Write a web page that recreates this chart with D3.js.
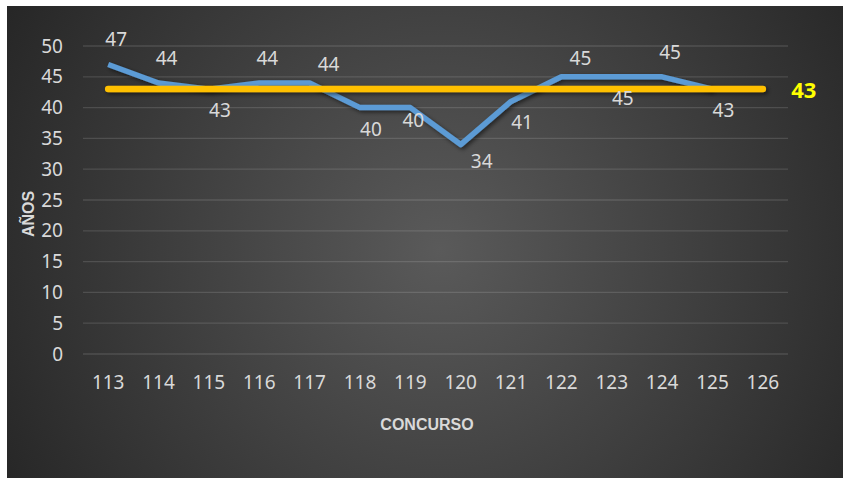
<!DOCTYPE html>
<html>
<head>
<meta charset="utf-8">
<script src="https://cdn.jsdelivr.net/npm/d3@7"></script>
<style>
  html, body { margin: 0; padding: 0; background: #fff; }
  svg { display: block; }
</style>
</head>
<body>
<div id="chart"></div>
<script>
// data
var concursos = ["113","114","115","116","117","118","119","120","121","122","123","124","125","126"];
var edades = [47, 44, 43, 44, 44, 40, 40, 34, 41, 45, 45, 45, 43];
var promedio = [43];
var yTicks = [0, 5, 10, 15, 20, 25, 30, 35, 40, 45, 50];
// where each data label sits relative to its point
var labelPos = ["t","t","b","t","tr","b","bs","br","b","tr","b","t","b"];

var W = 843, H = 478;
var margin = {top: 46, right: 55, bottom: 124, left: 83};

var svg = d3.select("#chart").append("svg")
    .attr("width", W)
    .attr("height", H);

var defs = svg.append("defs");

var bg = defs.append("radialGradient")
    .attr("id", "bg")
    .attr("gradientUnits", "userSpaceOnUse")
    .attr("cx", 440).attr("cy", 250).attr("r", 540);
bg.append("stop").attr("offset", "0%").attr("stop-color", "#5a5a5a");
bg.append("stop").attr("offset", "100%").attr("stop-color", "#222222");

// user space region so the flat average line still gets its shadow
var shadow = defs.append("filter")
    .attr("id", "shadow")
    .attr("filterUnits", "userSpaceOnUse")
    .attr("x", 0).attr("y", 0)
    .attr("width", W).attr("height", H);
shadow.append("feDropShadow")
    .attr("dx", 2).attr("dy", 2)
    .attr("stdDeviation", 2)
    .attr("flood-color", "#000")
    .attr("flood-opacity", 0.55);

svg.append("rect")
    .attr("x", 7).attr("y", 6)
    .attr("width", W - 7).attr("height", H - 6)
    .attr("fill", "url(#bg)");

var x = d3.scaleBand()
    .domain(concursos)
    .range([margin.left, W - margin.right])
    .padding(0);

var y = d3.scaleLinear()
    .domain([0, 50])
    .range([H - margin.bottom, margin.top]);

var cx = function (d, i) { return x(concursos[i]) + x.bandwidth() / 2; };

// gridlines
svg.append("g")
    .selectAll("line")
    .data(yTicks)
    .enter().append("line")
    .attr("x1", margin.left)
    .attr("x2", W - margin.right)
    .attr("y1", function (d) { return y(d); })
    .attr("y2", function (d) { return y(d); })
    .attr("stroke", "rgba(255,255,255,0.13)")
    .attr("stroke-width", 1.3);

var tickFont = "'Noto Sans', 'Open Sans', sans-serif";
var tickSize = "19px";

// y axis
var yAxis = svg.append("g")
    .attr("transform", "translate(" + (margin.left - 20) + ",0)")
    .call(d3.axisLeft(y).tickValues(yTicks).tickSize(0).tickPadding(0));
yAxis.select(".domain").remove();
yAxis.selectAll("text")
    .attr("fill", "#d9d9d9")
    .style("font-family", tickFont)
    .style("font-size", tickSize);

// x axis
var xAxis = svg.append("g")
    .attr("transform", "translate(0," + (H - margin.bottom + 21) + ")")
    .call(d3.axisBottom(x).tickSize(0).tickPadding(0));
xAxis.select(".domain").remove();
xAxis.selectAll("text")
    .attr("fill", "#d9d9d9")
    .style("font-family", tickFont)
    .style("font-size", tickSize);

// axis titles
svg.append("text")
    .attr("transform", "translate(28,214) rotate(-90)")
    .attr("text-anchor", "middle")
    .attr("dominant-baseline", "central")
    .attr("fill", "#d9d9d9")
    .style("font-family", "'Liberation Sans', Arial, sans-serif")
    .style("font-weight", "bold")
    .style("font-size", "16px")
    .text("AÑOS");

svg.append("text")
    .attr("x", 427)
    .attr("y", 424)
    .attr("text-anchor", "middle")
    .attr("dominant-baseline", "central")
    .attr("fill", "#d9d9d9")
    .style("font-family", "'Liberation Sans', Arial, sans-serif")
    .style("font-weight", "bold")
    .style("font-size", "16px")
    .text("CONCURSO");

// blue series
var line = d3.line()
    .x(cx)
    .y(function (d) { return y(d); });

svg.append("path")
    .datum(edades)
    .attr("d", line)
    .attr("fill", "none")
    .attr("stroke", "#5b9bd5")
    .attr("stroke-width", 5.5)
    .attr("stroke-linejoin", "round")
    .attr("filter", "url(#shadow)");

// average line
var avgLine = d3.line()
    .x(function (d) { return x(d) + x.bandwidth() / 2; })
    .y(function () { return y(promedio[0]); });

svg.append("path")
    .datum([concursos[0], concursos[concursos.length - 1]])
    .attr("d", avgLine)
    .attr("fill", "none")
    .attr("stroke", "#ffc000")
    .attr("stroke-width", 6.5)
    .attr("stroke-linecap", "round")
    .attr("filter", "url(#shadow)");

svg.append("text")
    .attr("x", x(concursos[concursos.length - 1]) + x.bandwidth() / 2 + 41)
    .attr("y", y(promedio[0]))
    .attr("text-anchor", "middle")
    .attr("dominant-baseline", "central")
    .attr("fill", "#ffff00")
    .style("font-family", tickFont)
    .style("font-weight", "bold")
    .style("font-size", "22px")
    .text(promedio[0]);

// data labels
var nudge = {
    t:  [8, -25],
    tr: [19, -19],
    b:  [11, 21],
    br: [21, 16],
    bs: [3, 12]
};

svg.append("g")
    .selectAll("text")
    .data(edades)
    .enter().append("text")
    .attr("x", function (d, i) { return cx(d, i) + nudge[labelPos[i]][0]; })
    .attr("y", function (d, i) { return y(d) + nudge[labelPos[i]][1]; })
    .attr("text-anchor", "middle")
    .attr("dominant-baseline", "central")
    .attr("fill", "#d9d9d9")
    .style("font-family", tickFont)
    .style("font-size", tickSize)
    .text(function (d) { return d; });
</script>
</body>
</html>
